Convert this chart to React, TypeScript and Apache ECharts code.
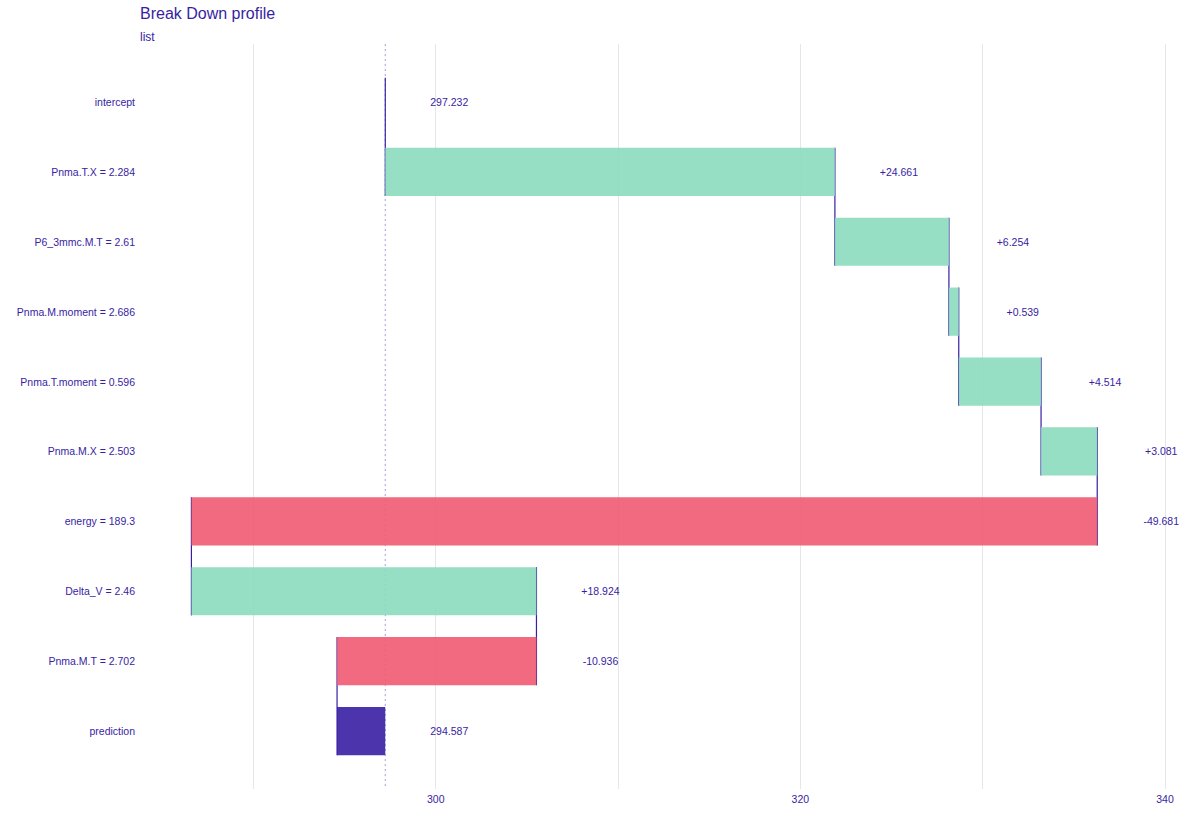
import React, { useEffect, useRef } from "react";
import * as echarts from "echarts";

const variables = [
  "intercept",
  "Pnma.T.X = 2.284",
  "P6_3mmc.M.T = 2.61",
  "Pnma.M.moment = 2.686",
  "Pnma.T.moment = 0.596",
  "Pnma.M.X = 2.503",
  "energy = 189.3",
  "Delta_V = 2.46",
  "Pnma.M.T = 2.702",
  "prediction",
];
const intercept = 297.232;
const contributions = [24.661, 6.254, 0.539, 4.514, 3.081, -49.681, 18.924, -10.936];
const prediction = 294.587;
const xLabelValues = [300, 320, 340];
const xGridValues = [290, 300, 310, 320, 330, 340];

const PURPLE = "#371ea3";
const FILLS = ["#8bdcbe", "#f05a71", "#371ea3"];
const FONT = "Liberation Sans, Arial, sans-serif";

export default function App() {
  const ref = useRef<HTMLDivElement>(null);
  useEffect(() => {
    document.body.style.margin = "0";
    if (!ref.current) return;
    const chart = echarts.init(ref.current, null, { renderer: "svg" });

    const bars: number[][] = [];
    const labels: string[] = [];
    let cum = intercept;
    bars.push([intercept, intercept, 0, 2]);
    labels.push(intercept.toFixed(3));
    const ends: number[] = [intercept];
    contributions.forEach((c, i) => {
      const s = cum;
      cum = cum + c;
      bars.push([s, cum, i + 1, c >= 0 ? 0 : 1]);
      labels.push((c >= 0 ? "+" : "") + c.toFixed(3));
      ends.push(cum);
    });
    bars.push([intercept, prediction, 9, 2]);
    labels.push(prediction.toFixed(3));

    const segData = ends.map((x, i) => [x, i]);
    const labelData = bars.map((b) => [Math.max(b[0], b[1]), b[2]]);
    const HALF = 0.345;

    const option: any = {
      animation: false,
      backgroundColor: "#ffffff",
      title: [
        {
          text: "Break Down profile",
          left: 140,
          top: 5,
          padding: 0,
          textStyle: { fontSize: 16, fontWeight: "normal", color: PURPLE, fontFamily: FONT },
        },
        {
          text: "list",
          left: 140,
          top: 31,
          padding: 0,
          textStyle: { fontSize: 12, fontWeight: "normal", color: PURPLE, fontFamily: FONT },
        },
      ],
      grid: { left: 140, right: 16, top: 44, bottom: 33, containLabel: false },
      xAxis: {
        type: "value",
        min: 283.78,
        max: 341.04,
        axisLine: { show: false },
        axisTick: { show: false, customValues: xGridValues },
        axisLabel: {
          customValues: xLabelValues,
          color: PURPLE,
          fontSize: 10.5,
          fontFamily: FONT,
          margin: 4,
        },
        splitLine: { show: true, lineStyle: { color: "#e6e6e6", width: 1 } },
      },
      yAxis: {
        type: "value",
        inverse: true,
        min: -0.829,
        max: 9.829,
        axisLine: { show: false },
        axisTick: { show: false, customValues: [0, 1, 2, 3, 4, 5, 6, 7, 8, 9] },
        splitLine: { show: false },
        axisLabel: {
          customValues: [0, 1, 2, 3, 4, 5, 6, 7, 8, 9],
          formatter: (v: number) => variables[Math.round(v)] ?? "",
          color: PURPLE,
          fontSize: 10.5,
          fontFamily: FONT,
          margin: 5,
        },
      },
      series: [
        {
          type: "custom",
          name: "baseline",
          data: [[intercept, 0]],
          clip: false,
          renderItem: (params: any, api: any) => {
            const cs = params.coordSys;
            const p = api.coord([api.value(0), 0]);
            return {
              type: "line",
              shape: { x1: p[0], y1: cs.y, x2: p[0], y2: cs.y + cs.height },
              style: { stroke: "#a99ddc", lineWidth: 1, lineDash: [2, 3] },
            };
          },
        },
        {
          type: "custom",
          name: "connectors",
          data: segData,
          clip: false,
          renderItem: (params: any, api: any) => {
            const x = api.value(0);
            const r = api.value(1);
            const a = api.coord([x, r - HALF]);
            const b = api.coord([x, r + 1 + HALF]);
            return {
              type: "line",
              shape: { x1: a[0], y1: a[1], x2: b[0], y2: b[1] },
              style: { stroke: PURPLE, lineWidth: 1.2 },
            };
          },
        },
        {
          type: "custom",
          name: "bars",
          data: bars,
          clip: false,
          renderItem: (params: any, api: any) => {
            const s = api.value(0);
            const e = api.value(1);
            const r = api.value(2);
            const k = api.value(3);
            const a = api.coord([Math.min(s, e), r - HALF]);
            const b = api.coord([Math.max(s, e), r + HALF]);
            return {
              type: "rect",
              shape: { x: a[0], y: a[1], width: b[0] - a[0], height: b[1] - a[1] },
              style: { fill: FILLS[k], opacity: 0.9 },
            };
          },
        },
        {
          type: "custom",
          name: "labels",
          data: labelData,
          clip: false,
          renderItem: (params: any, api: any) => {
            const p = api.coord([api.value(0), api.value(1)]);
            return {
              type: "text",
              x: p[0] + 64,
              y: p[1],
              style: {
                text: labels[params.dataIndex],
                fill: PURPLE,
                fontSize: 10.5,
                fontFamily: FONT,
                align: "center",
                verticalAlign: "middle",
              },
            };
          },
        },
      ],
    };
    chart.setOption(option);
    return () => chart.dispose();
  }, []);
  return <div ref={ref} style={{ width: 1200, height: 822 }} />;
}
